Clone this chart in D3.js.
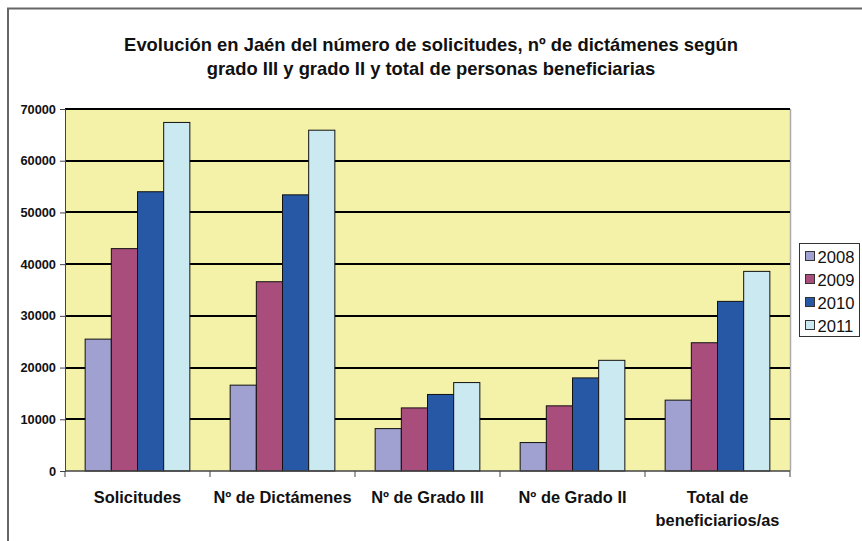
<!DOCTYPE html>
<html>
<head>
<meta charset="utf-8">
<script src="https://cdn.jsdelivr.net/npm/d3@7"></script>
<style>
  body { margin: 0; background: #fff; }
  svg { display: block; font-family: "Liberation Sans", Arial, sans-serif; }
</style>
</head>
<body>
<div id="chart"></div>
<script>
// data
var categories = ["Solicitudes", "Nº de Dictámenes", "Nº de Grado III", "Nº de Grado II", "Total de beneficiarios/as"];
var years = ["2008", "2009", "2010", "2011"];
var v2008 = [25500, 16600, 8200, 5500, 13700];
var v2009 = [43000, 36600, 12200, 12600, 24800];
var v2010 = [54000, 53400, 14800, 18000, 32800];
var v2011 = [67400, 65900, 17100, 21400, 38600];
var yTicks = [0, 10000, 20000, 30000, 40000, 50000, 60000, 70000];
var colors = ["#a0a1d0", "#a94d7c", "#2658a6", "#cbe9f0"];

var series = [v2008, v2009, v2010, v2011];
var data = categories.map(function(c, i) {
  return { cat: c, values: years.map(function(y, j) { return { year: y, value: series[j][i] }; }) };
});

var width = 862, height = 541;

var svg = d3.select("#chart").append("svg")
  .attr("width", width)
  .attr("height", height);

// outer frame (runs off the bottom/right edge)
svg.append("rect")
  .attr("x", 8).attr("y", 8.5)
  .attr("width", 900).attr("height", 600)
  .attr("fill", "none")
  .attr("stroke", "#666")
  .attr("stroke-width", 2);

// title
var title = svg.append("text")
  .attr("text-anchor", "middle")
  .attr("font-weight", "bold")
  .attr("font-size", "18.4px")
  .attr("fill", "#111");
title.append("tspan").attr("x", 431).attr("y", 51)
  .text("Evolución en Jaén del número de solicitudes, nº de dictámenes según");
title.append("tspan").attr("x", 431).attr("y", 75)
  .text("grado III y grado II y total de personas beneficiarias");

var x0 = d3.scaleBand()
  .domain(categories)
  .range([65, 790])
  .paddingInner(0).paddingOuter(0);

var x1 = d3.scaleBand()
  .domain(years)
  .range([0, x0.bandwidth()])
  .paddingInner(0).paddingOuter(0.77);

var y = d3.scaleLinear()
  .domain([0, 70000])
  .range([471, 109]);

var color = d3.scaleOrdinal().domain(years).range(colors);

// plot area background
svg.append("rect")
  .attr("x", 65).attr("y", y(70000))
  .attr("width", 790 - 65).attr("height", y(0) - y(70000))
  .attr("fill", "#f4f1a9");
svg.append("line")
  .attr("x1", 790.5).attr("x2", 790.5)
  .attr("y1", y(70000)).attr("y2", y(0))
  .attr("stroke", "#aaa").attr("stroke-width", 1.5);

// gridlines
svg.append("g")
  .selectAll("line")
  .data(yTicks.filter(function(d) { return d > 0; }))
  .join("line")
    .attr("x1", 65).attr("x2", 790)
    .attr("y1", function(d) { return Math.round(y(d)); })
    .attr("y2", function(d) { return Math.round(y(d)); })
    .attr("stroke", "#000")
    .attr("stroke-width", 2);

// bars
svg.append("g")
  .selectAll("g")
  .data(data)
  .join("g")
    .attr("transform", function(d) { return "translate(" + x0(d.cat) + ",0)"; })
  .selectAll("rect")
  .data(function(d) { return d.values; })
  .join("rect")
    .attr("x", function(d) { return x1(d.year); })
    .attr("y", function(d) { return y(d.value); })
    .attr("width", x1.bandwidth())
    .attr("height", function(d) { return y(0) - y(d.value); })
    .attr("fill", function(d) { return color(d.year); })
    .attr("stroke", "#111")
    .attr("stroke-width", 1);

// y axis
var yAxis = svg.append("g")
  .attr("transform", "translate(65,0)")
  .call(d3.axisLeft(y).tickValues(yTicks).tickSize(5).tickPadding(4).tickFormat(d3.format("d")));
yAxis.select(".domain").attr("stroke", "#444");
yAxis.selectAll(".tick line").attr("stroke", "#444");
yAxis.selectAll("text")
  .attr("font-size", "12.8px")
  .attr("font-weight", "bold")
  .attr("font-family", "Liberation Sans, Arial, sans-serif")
  .attr("fill", "#111");

// x axis: ticks at category boundaries
var xAxis = svg.append("g")
  .attr("transform", "translate(0," + y(0) + ")");
xAxis.append("line")
  .attr("x1", 65).attr("x2", 790)
  .attr("stroke", "#444").attr("stroke-width", 1.5);
xAxis.selectAll("line.tk")
  .data(categories.concat(["end"]))
  .join("line")
    .attr("class", "tk")
    .attr("x1", function(d, i) { return 65 + i * x0.bandwidth(); })
    .attr("x2", function(d, i) { return 65 + i * x0.bandwidth(); })
    .attr("y1", 0).attr("y2", 6)
    .attr("stroke", "#444");

var xl = xAxis.selectAll("text")
  .data(categories)
  .join("text")
    .attr("text-anchor", "middle")
    .attr("font-size", "16.4px")
    .attr("font-weight", "bold")
    .attr("fill", "#111")
    .attr("transform", function(d) { return "translate(" + (x0(d) + x0.bandwidth() / 2) + ",0)"; });
xl.each(function(d) {
  var t = d3.select(this);
  var lines = d === "Total de beneficiarios/as" ? ["Total de", "beneficiarios/as"] : [d];
  lines.forEach(function(s, i) {
    t.append("tspan").attr("x", 0).attr("y", 32 + i * 23).text(s);
  });
});

// legend
var legend = svg.append("g").attr("transform", "translate(799.5,243.5)");
legend.append("rect")
  .attr("width", 60).attr("height", 93)
  .attr("fill", "#fff")
  .attr("stroke", "#333");
var li = legend.selectAll("g")
  .data(years)
  .join("g")
    .attr("transform", function(d, i) { return "translate(6," + (13 + i * 23) + ")"; });
li.append("rect")
  .attr("x", 0).attr("y", -5)
  .attr("width", 9).attr("height", 9)
  .attr("fill", function(d) { return color(d); })
  .attr("stroke", "#333");
li.append("text")
  .attr("x", 12).attr("y", 6)
  .attr("font-size", "16.6px")
  .attr("fill", "#111")
  .text(function(d) { return d; });
</script>
</body>
</html>
